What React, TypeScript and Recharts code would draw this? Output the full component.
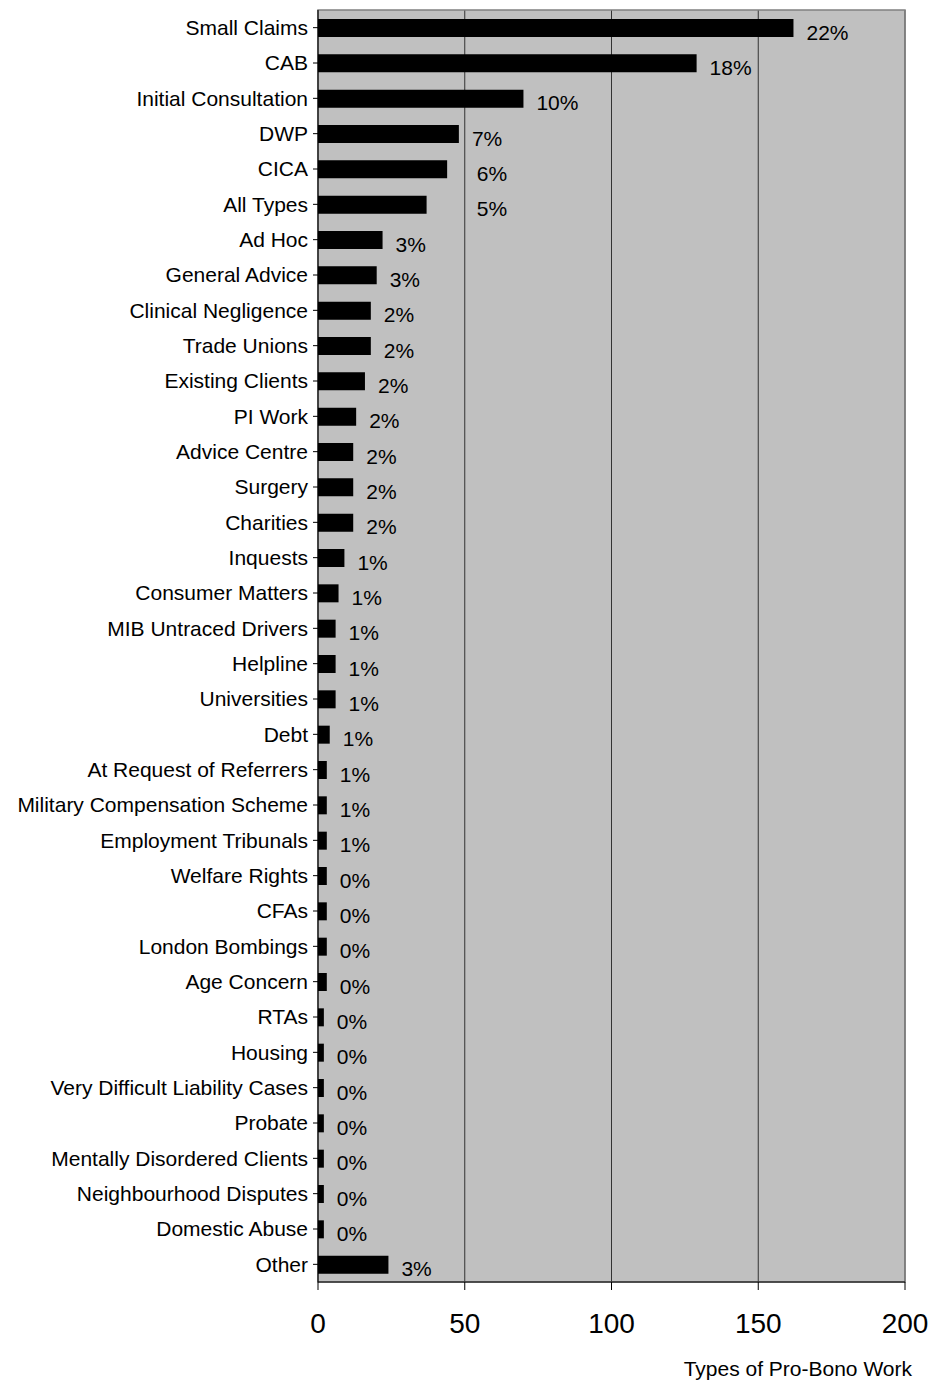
import React from "react";
import {
  BarChart,
  Bar,
  XAxis,
  YAxis,
  CartesianGrid,
  LabelList,
  ReferenceArea,
} from "recharts";

const categories = [
  "Small Claims", "CAB", "Initial Consultation", "DWP", "CICA", "All Types",
  "Ad Hoc", "General Advice", "Clinical Negligence", "Trade Unions",
  "Existing Clients", "PI Work", "Advice Centre", "Surgery", "Charities",
  "Inquests", "Consumer Matters", "MIB Untraced Drivers", "Helpline",
  "Universities", "Debt", "At Request of Referrers",
  "Military Compensation Scheme", "Employment Tribunals", "Welfare Rights",
  "CFAs", "London Bombings", "Age Concern", "RTAs", "Housing",
  "Very Difficult Liability Cases", "Probate", "Mentally Disordered Clients",
  "Neighbourhood Disputes", "Domestic Abuse", "Other",
];

const counts = [
  162, 129, 70, 48, 44, 37,
  22, 20, 18, 18,
  16, 13, 12, 12, 12,
  9, 7, 6, 6,
  6, 4, 3,
  3, 3, 3,
  3, 3, 3, 2, 2,
  2, 2, 2,
  2, 2, 24,
];

const shares = [
  "22%", "18%", "10%", "7%", "6%", "5%",
  "3%", "3%", "2%", "2%",
  "2%", "2%", "2%", "2%", "2%",
  "1%", "1%", "1%", "1%",
  "1%", "1%", "1%",
  "1%", "1%", "0%",
  "0%", "0%", "0%", "0%", "0%",
  "0%", "0%", "0%",
  "0%", "0%", "3%",
];

const xTicks = [0, 50, 100, 150, 200];

const data = categories.map((name, i) => ({ name, value: counts[i], share: shares[i] }));

const FONT = "'Liberation Sans', Arial, sans-serif";

// percent label to the right of the bar, nudged past a gridline it would cross
function ShareLabel(p: any) {
  const x = Number(p.x);
  const w = Number(p.width);
  const v = counts[p.index];
  const ppu = v ? w / v : 0;
  const text = String(p.value);
  const textW = text.length * 11.7;
  let lx = x + w + 13;
  for (const t of xTicks) {
    if (t === 0 || !ppu) continue;
    const gx = x + t * ppu;
    if (lx < gx + 4 && lx + textW > gx - 2) lx = gx + 12;
  }
  return (
    <text
      x={lx}
      y={Number(p.y) + Number(p.height) / 2 + 4}
      dy="0.36em"
      fontSize={21}
      fontFamily={FONT}
      fill="#000"
    >
      {text}
    </text>
  );
}

export default function App() {
  return (
    <div style={{ position: "absolute", left: 0, top: 0, background: "#fff" }}>
      <BarChart
        width={937}
        height={1385}
        data={data}
        layout="vertical"
        margin={{ top: 10, right: 32, bottom: 0, left: 0 }}
        barSize={18}
      >
        <CartesianGrid
          horizontal={false}
          vertical
          stroke="#333"
          fill="#c0c0c0"
          fillOpacity={1}
        />
        <ReferenceArea x1={0} x2={200} fill="none" stroke="#808080" strokeWidth={1.5} />
        <XAxis
          type="number"
          domain={[0, 200]}
          ticks={xTicks}
          axisLine={{ stroke: "#000" }}
          tickLine={{ stroke: "#000" }}
          tickSize={8}
          tickMargin={23}
          height={103}
          tick={{ fontSize: 28, fill: "#000", fontFamily: FONT }}
          label={{
            value: "Types of Pro-Bono Work",
            position: "insideBottomRight",
            offset: 9,
            dx: 16,
            style: { fontSize: 21, fill: "#000", fontFamily: FONT },
          }}
        />
        <YAxis
          type="category"
          dataKey="name"
          width={318}
          interval={0}
          axisLine={{ stroke: "#000" }}
          tickLine={{ stroke: "#000" }}
          tickSize={5}
          tickMargin={5}
          tick={{ fontSize: 21, fill: "#000", fontFamily: FONT }}
        />
        <Bar dataKey="value" fill="#000" isAnimationActive={false}>
          <LabelList dataKey="share" content={ShareLabel} />
        </Bar>
      </BarChart>
    </div>
  );
}
